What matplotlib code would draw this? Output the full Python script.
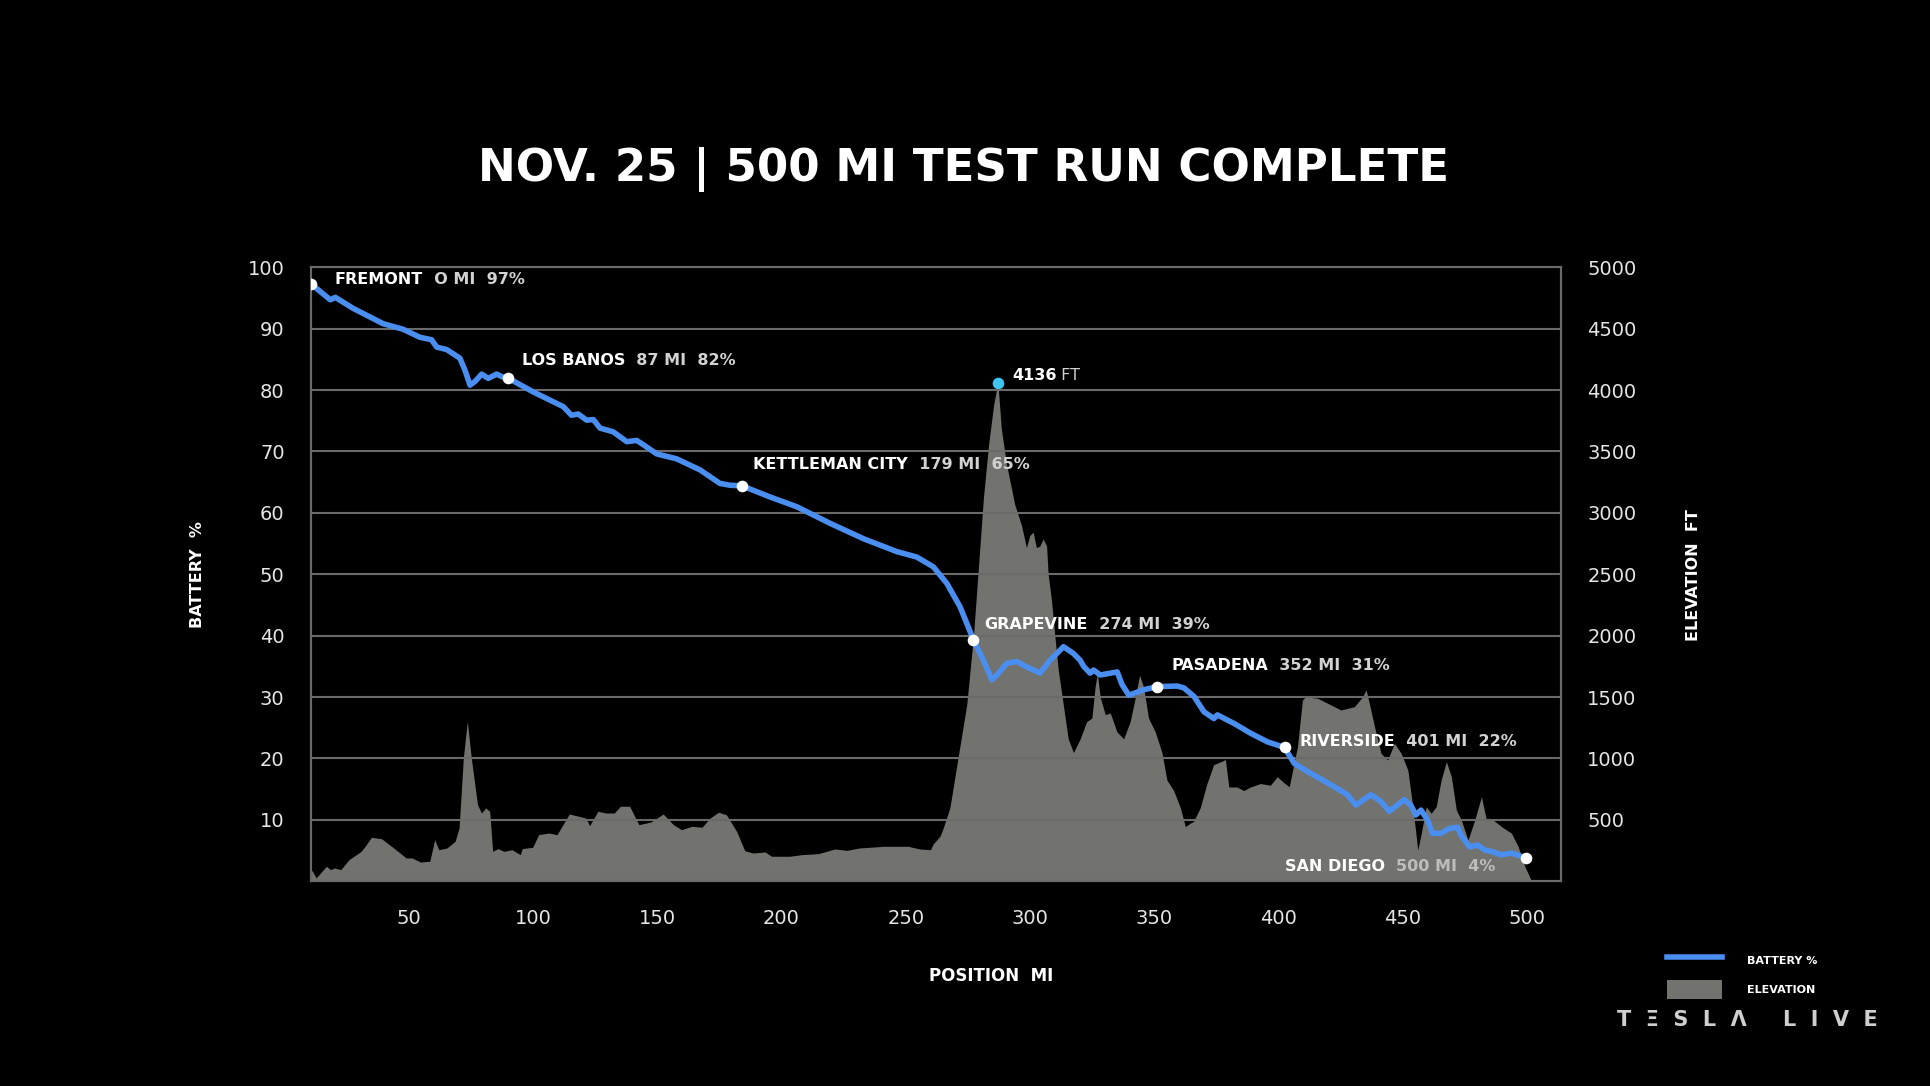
import matplotlib
matplotlib.use("Agg")
import matplotlib.pyplot as plt
from matplotlib.lines import Line2D
from matplotlib.patches import Patch

# battery % along the route (position in miles)
bat_mi = [10.7, 18.5, 20.5, 27.7, 39.8, 47.8, 54.5, 59.2, 61.3, 65.3, 70.6, 72.6, 74.7, 76.7,
          79.4, 82.0, 85.4, 87.4, 89.8, 100.1, 112.2, 115.5, 118.2, 121.6, 124.3, 127.0, 132.3,
          137.7, 141.7, 144.4, 149.8, 153.8, 157.8, 167.2, 175.2, 179.3, 184.1, 195.3, 206.1,
          219.5, 232.9, 246.3, 254.4, 261.1, 266.5, 271.8, 277.2, 281.2, 284.6, 286.6, 290.6,
          294.6, 298.6, 304.0, 308.0, 313.4, 317.4, 320.1, 321.5, 324.1, 325.5, 328.2, 335.0,
          337.0, 339.7, 345.7, 351.1, 359.1, 361.8, 365.9, 369.9, 373.9, 375.3, 382.0, 388.7,
          395.5, 402.3, 406.2, 411.5, 422.3, 427.6, 431.0, 437.0, 441.1, 444.4, 450.5, 453.1,
          455.1, 457.2, 459.8, 461.8, 465.2, 468.6, 471.9, 473.3, 476.7, 480.0, 482.7, 486.1,
          489.4, 493.5, 499.5]
bat_pct = [97.3, 94.7, 95.1, 93.3, 90.8, 89.9, 88.6, 88.2, 87.0, 86.6, 85.2, 83.3, 80.8, 81.4,
           82.6, 81.9, 82.6, 82.2, 82.0, 79.7, 77.3, 75.9, 76.1, 75.1, 75.2, 73.8, 73.2,
           71.6, 71.8, 71.1, 69.6, 69.2, 68.8, 67.0, 64.8, 64.5, 64.4, 62.6, 61.0,
           58.3, 55.8, 53.7, 52.8, 51.2, 48.5, 44.7, 39.3, 36.0, 32.8, 33.6, 35.5,
           35.8, 34.9, 33.9, 36.0, 38.2, 37.1, 36.0, 35.0, 33.9, 34.4, 33.6, 34.1,
           32.0, 30.3, 31.2, 31.7, 31.8, 31.5, 30.1, 27.6, 26.5, 27.1, 25.7, 24.1,
           22.7, 21.8, 19.2, 17.9, 15.4, 14.1, 12.4, 14.1, 13.0, 11.4, 13.3, 12.4,
           10.8, 11.6, 10.0, 7.8, 7.8, 8.6, 8.8, 7.5, 5.6, 5.9, 5.1, 4.8,
           4.3, 4.6, 3.8]

# elevation profile (ft)
elev_mi = [10.7, 11.2, 12.8, 16.9, 18.6, 20.2, 22.7, 26.0, 30.9, 32.5, 35.0, 39.1, 44.0, 49.0,
           51.4, 54.7, 58.5, 60.5, 62.1, 65.4, 68.7, 70.3, 72.0, 73.6, 75.2, 77.7, 79.3, 81.0,
           82.6, 83.8, 85.9, 88.4, 91.6, 94.9, 95.7, 99.9, 102.3, 106.4, 109.7, 114.6, 121.2,
           122.8, 126.1, 129.4, 132.7, 135.2, 138.9, 142.6, 147.5, 152.4, 156.5, 159.8, 163.9,
           168.0, 171.3, 174.6, 177.8, 181.9, 185.2, 188.5, 193.4, 195.9, 203.3, 208.2, 214.8,
           221.4, 226.3, 231.2, 241.1, 250.9, 255.6, 259.9, 261.0, 263.7, 265.0, 267.7, 271.1,
           274.5, 277.2, 279.2, 281.2, 283.2, 285.3, 287.0, 288.4, 290.4, 293.8, 296.5, 298.5,
           299.8, 301.2, 302.5, 303.9, 305.2, 306.6, 307.2, 308.6, 309.9, 311.3, 313.3, 315.3,
           317.4, 320.1, 322.7, 324.8, 326.1, 327.0, 328.2, 330.2, 332.2, 334.9, 337.6, 340.2,
           342.3, 344.0, 345.6, 347.6, 350.3, 353.0, 355.0, 357.7, 360.4, 362.4, 364.4, 365.7,
           368.4, 371.1, 373.8, 377.2, 378.5, 379.9, 383.2, 385.9, 388.6, 392.6, 396.6, 399.4,
           402.2, 404.2, 407.5, 409.5, 410.8, 415.6, 419.6, 425.0, 430.4, 433.7, 435.1, 436.4,
           438.5, 441.1, 443.8, 446.5, 449.2, 451.9, 453.9, 455.9, 457.3, 459.3, 461.3, 463.3,
           465.3, 467.4, 469.4, 471.4, 473.4, 476.1, 478.8, 481.5, 483.5, 486.2, 489.6, 493.6,
           496.3, 499.0, 501.7]
elev_ft = [80, 86, 27, 122, 95, 108, 95, 176, 244, 285, 358, 347, 271, 190,
           190, 157, 163, 339, 257, 271, 326, 434, 1004, 1303, 1004, 624, 556, 597,
           570, 244, 266, 244, 257, 217, 266, 277, 380, 393, 380, 548, 516,
           453, 570, 556, 556, 611, 611, 461, 483, 548, 461, 420, 448,
           440, 516, 562, 542, 407, 249, 230, 239, 204, 204, 217, 225,
           263, 252, 271, 285, 285, 263, 257, 305, 366, 432, 599, 1020,
           1441, 2002, 2563, 3124, 3544, 3880, 4060, 3684, 3404, 3067, 2899, 2717,
           2815, 2843, 2717, 2730, 2787, 2730, 2506, 2282, 2002, 1721, 1441, 1160,
           1048, 1160, 1300, 1329, 1581, 1693, 1497, 1357, 1371, 1217, 1160, 1300,
           1497, 1679, 1581, 1329, 1217, 1048, 824, 739, 599, 445, 473, 487,
           599, 796, 950, 978, 992, 768, 768, 739, 768, 796, 782, 852,
           800, 770, 1096, 1476, 1503, 1490, 1450, 1395, 1422, 1503, 1558, 1450,
           1259, 1042, 988, 1124, 1042, 906, 607, 255, 391, 607, 554, 607,
           825, 974, 852, 581, 499, 336, 499, 689, 499, 499, 445, 391,
           282, 119, 0]

# stops: name, label text, plotted position, battery
stop_names = ["FREMONT", "LOS BANOS", "KETTLEMAN CITY", "GRAPEVINE", "PASADENA", "RIVERSIDE", "SAN DIEGO"]
stop_info = ["O MI  97%", "87 MI  82%", "179 MI  65%", "274 MI  39%", "352 MI  31%", "401 MI  22%", "500 MI  4%"]
stop_mi = [10.7, 89.8, 184.1, 277.2, 351.1, 402.3, 499.5]
stop_pct = [97.3, 82.0, 64.4, 39.3, 31.7, 21.8, 3.8]
# label offsets in pixels from the dot
stop_off = [(24, 4), (14, 17), (11, 21), (11, 15), (14, 21), (15, 6), (-31, -9)]

peak_mi = 287.0
peak_ft = 4060
peak_label = "4136"

x_ticks = [50, 100, 150, 200, 250, 300, 350, 400, 450, 500]
y_ticks = [10, 20, 30, 40, 50, 60, 70, 80, 90, 100]
y2_ticks = [500, 1000, 1500, 2000, 2500, 3000, 3500, 4000, 4500, 5000]

BG = "#000000"
BLUE = "#4a8ef0"
GREY_FILL = "#72726e"
GRID = "#6a6a6a"
TXT = "#e6e6e6"
FONT = "DejaVu Sans"

plt.rcParams['font.family'] = [FONT]
fig = plt.figure(figsize=(19.3, 10.86), dpi=100, facecolor=BG)
ax2 = fig.add_axes([0.1611, 0.1885, 0.6477, 0.5654])
ax = ax2.twinx()
ax2.set_facecolor(BG)
ax.set_zorder(ax2.get_zorder() + 1)
ax.patch.set_visible(False)

# elevation (behind)
ax2.fill_between(elev_mi, elev_ft, 0, color=GREY_FILL, lw=0, zorder=1)
ax2.set_ylim(0, 5000)
ax2.set_xlim(10.7, 513.5)

# battery
ax.set_ylim(0, 100)
ax.grid(axis='y', color=GRID, lw=1.5, zorder=2)
ax.set_axisbelow(False)
ax.plot(bat_mi, bat_pct, color=BLUE, lw=4, solid_joinstyle='round', solid_capstyle='round', zorder=3)
ax.scatter(stop_mi, stop_pct, s=70, color="white", zorder=4, linewidths=0)

# peak marker uses the elevation scale
ax2.scatter([peak_mi], [peak_ft], s=70, color="#3cc4f2", zorder=5, linewidths=0)
pk = ax2.annotate(peak_label, (peak_mi, peak_ft), xytext=(14 * 0.72, 7 * 0.72), textcoords='offset points',
                  color="white", fontsize=11.5, fontweight='bold', va='center', ha='left', zorder=6)
ax2.annotate(" FT", xy=(1, 0.5), xycoords=pk, va='center', ha='left', color="#d0d0d0",
             fontsize=11.5, fontweight='normal')

for name, info, x, y, (dx, dy) in zip(stop_names, stop_info, stop_mi, stop_pct, stop_off):
    if dx >= 0:
        t = ax.annotate(name, (x, y), xytext=(dx * 0.72, dy * 0.72), textcoords='offset points',
                        color="white", fontsize=11.5, fontweight='bold', va='center', ha='left', zorder=6)
        ax.annotate("  " + info, xy=(1, 0.5), xycoords=t, va='center', ha='left',
                    color="#d2d2d2", fontsize=11.5, fontweight='bold', zorder=6)
    else:
        t = ax.annotate(info, (x, y), xytext=(dx * 0.72, dy * 0.72), textcoords='offset points',
                        color="#bdbdbd", fontsize=11.5, fontweight='bold', va='center', ha='right', zorder=6)
        ax.annotate(name + "  ", xy=(0, 0.5), xycoords=t, va='center', ha='right',
                    color="white", fontsize=11.5, fontweight='bold', zorder=6)

# ticks and spines
for a in (ax, ax2):
    for s in a.spines.values():
        s.set_color(GRID)
        s.set_linewidth(1.5)
    a.tick_params(length=0, colors=TXT, labelsize=14)
ax2.set_xticks(x_ticks)
ax2.tick_params(axis='x', pad=20)
ax2.set_yticks([])
ax.set_yticks(y_ticks)
ax.yaxis.tick_left()
ax.tick_params(axis='y', pad=19)

ax2r = ax2.secondary_yaxis('right')
ax2r.set_yticks(y2_ticks)
ax2r.tick_params(length=0, colors=TXT, labelsize=14, pad=19)
ax2r.spines['right'].set_visible(False)

# axis titles
fig.text(197 / 1930, 1 - 575 / 1086, "BATTERY  %", rotation=90, color="white", fontsize=11.5,
         fontweight='bold', ha='center', va='center')
fig.text(1694 / 1930, 1 - 575 / 1086, "ELEVATION  FT", rotation=90, color="white", fontsize=11.5,
         fontweight='bold', ha='center', va='center')
fig.text(991 / 1930, 1 - 976 / 1086, "POSITION  MI", color="white", fontsize=12,
         fontweight='bold', ha='center', va='center')

# title
fig.text(963 / 1930, 1 - 169 / 1086, "NOV. 25 | 500 MI TEST RUN COMPLETE", color="white",
         fontsize=32.5, fontweight='bold', ha='center', va='center')

# legend
handles = [Line2D([], [], color=BLUE, lw=4), Patch(facecolor=GREY_FILL, edgecolor='none')]
leg = fig.legend(handles, ["BATTERY %", "ELEVATION"], loc='center', bbox_to_anchor=(1742 / 1930, 1 - 975 / 1086),
                 frameon=False, labelcolor="white", prop={'size': 8, 'weight': 'bold'},
                 handlelength=5.0, handleheight=2.3, labelspacing=0.9, handletextpad=2.2)

fig.text(1747 / 1930, 1 - 1020 / 1086, "T  Ξ  S  L  Λ     L  I  V  E", color="#cfcfcf", fontsize=15,
         fontweight='bold', ha='center', va='center')

fig.savefig("out.png", dpi=100, facecolor=BG)
